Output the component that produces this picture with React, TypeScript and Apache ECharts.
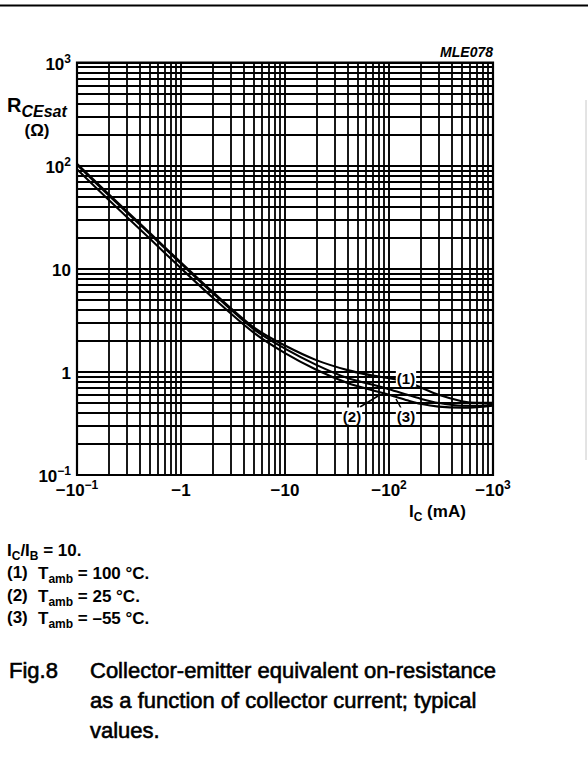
import React, { useEffect, useRef } from "react";
import * as echarts from "echarts";

// Collector current (mA, magnitude) and R_CEsat (ohm) for the three temperatures
const currentMA = [0.1, 0.2, 0.5, 1, 2, 5, 10, 20, 40, 70, 100, 150, 200, 300, 500, 700, 1000];
const r100C = [104, 53.5, 22.3, 11.5, 6.0, 2.7, 1.8, 1.3, 1.04, 0.92, 0.87, 0.8, 0.71, 0.6, 0.52, 0.5, 0.5];
const r25C = [102, 52, 21.8, 11.2, 5.85, 2.6, 1.68, 1.17, 0.87, 0.75, 0.68, 0.6, 0.55, 0.5, 0.47, 0.47, 0.48];
const rMinus55C = [92, 47, 19.6, 10.1, 5.3, 2.4, 1.52, 1.05, 0.78, 0.66, 0.6, 0.53, 0.49, 0.46, 0.45, 0.455, 0.47];

const decades = [0.1, 1, 10, 100, 1000];
const minorSteps = [2, 3, 4, 5, 6, 7, 8, 9];
const xTickLabels = [["−10", "−1"], ["−1", ""], ["−10", ""], ["−10", "2"], ["−10", "3"]];
const yTickLabels = [["10", "−1"], ["1", ""], ["10", ""], ["10", "2"], ["10", "3"]];

const FONT = "'Liberation Sans', Arial, Helvetica, sans-serif";

function tickFormatter(labels: string[][]) {
  return (v: number) => {
    const idx = Math.round(Math.log10(v)) + 1;
    const l = labels[idx];
    if (!l) return "";
    return l[1] ? `{b|${l[0]}}{s|${l[1]}}` : `{b|${l[0]}}`;
  };
}

const tickRich = {
  b: { fontFamily: FONT, fontSize: 17, fontWeight: "bold", color: "#000", lineHeight: 20, verticalAlign: "bottom" },
  s: { fontFamily: FONT, fontSize: 12, fontWeight: "bold", color: "#000", lineHeight: 12, verticalAlign: "top" },
};

export default function App() {
  const ref = useRef<HTMLDivElement>(null);
  useEffect(() => {
    if (!ref.current) return;
    const chart = echarts.init(ref.current, null, { renderer: "svg" });
    const minorLines: number[] = [];
    decades.slice(0, -1).forEach((d) => minorSteps.forEach((k) => minorLines.push(d * k)));
    const curve = (vals: number[], name: string) => ({
      type: "line",
      name,
      data: currentMA.map((x, i) => [x, vals[i]]),
      showSymbol: false,
      smooth: 0.3,
      z: 5,
      lineStyle: { color: "#000", width: 2.1 },
      silent: true,
    });
    const legendRich = {
      b: { fontFamily: FONT, fontSize: 17, fontWeight: "bold", fill: "#000", lineHeight: 20, verticalAlign: "bottom" },
      sub: { fontFamily: FONT, fontSize: 12, fontWeight: "bold", fill: "#000", lineHeight: 20, verticalAlign: "bottom", padding: [0, 0, -3, 0] },
    };
    const txt = (text: string, x: number, y: number, extra: any = {}) => ({
      type: "text",
      z: 100,
      style: {
        text,
        x,
        y,
        fill: "#000",
        font: `bold 17px ${FONT}`,
        verticalAlign: "middle",
        rich: legendRich,
        ...extra,
      },
    });
    const captionStyle = { font: `22px ${FONT}`, rich: undefined, stroke: "#000", lineWidth: 0.6 };
    chart.setOption({
      animation: false,
      backgroundColor: "#fff",
      grid: { left: 77, top: 62.5, width: 416, height: 412.5, show: true, borderColor: "#000", borderWidth: 2.2, backgroundColor: "transparent" },
      xAxis: {
        type: "log",
        logBase: 10,
        min: 0.1,
        max: 1000,
        axisLine: { show: false },
        axisTick: { show: false },
        splitLine: { show: true, lineStyle: { color: "#000", width: 1.9 } },
        axisLabel: { margin: 4, formatter: tickFormatter(xTickLabels), rich: tickRich, showMinLabel: true, showMaxLabel: true },
      },
      yAxis: {
        type: "log",
        logBase: 10,
        min: 0.1,
        max: 1000,
        axisLine: { show: false },
        axisTick: { show: false },
        splitLine: { show: true, lineStyle: { color: "#000", width: 1.9 } },
        axisLabel: { margin: 6, formatter: tickFormatter(yTickLabels), rich: tickRich, showMinLabel: true, showMaxLabel: true },
      },
      series: [
        {
          type: "line",
          data: [],
          silent: true,
          z: 1,
          markLine: {
            silent: true,
            symbol: ["none", "none"],
            label: { show: false },
            lineStyle: { color: "#000", width: 1.8, type: "solid" },
            data: [...minorLines.map((v) => ({ xAxis: v })), ...minorLines.map((v) => ({ yAxis: v }))],
          },
        },
        curve(r100C, "(1) 100 °C"),
        curve(r25C, "(2) 25 °C"),
        curve(rMinus55C, "(3) −55 °C"),
      ],
      graphic: [
        { type: "line", z: 100, shape: { x1: 0, y1: 5.5, x2: 588, y2: 5.5 }, style: { stroke: "#000", lineWidth: 2.2 } },
        { type: "line", z: 100, shape: { x1: 586, y1: 100, x2: 586, y2: 460 }, style: { stroke: "#c8c8c8", lineWidth: 1 } },
        txt("MLE078", 493, 52, { align: "right", font: `italic bold 14px ${FONT}`, rich: undefined }),
        {
          type: "text",
          z: 100,
          style: {
            text: "{r|R}{s|CEsat}",
            x: 7,
            y: 103,
            verticalAlign: "middle",
            rich: {
              r: { fontFamily: FONT, fontSize: 20, fontWeight: "bold", fill: "#000", lineHeight: 24, verticalAlign: "bottom" },
              s: { fontFamily: FONT, fontSize: 16, fontWeight: "bold", fontStyle: "italic", fill: "#000", lineHeight: 24, verticalAlign: "bottom", padding: [0, 0, -4, 0] },
            },
          },
        },
        txt("(Ω)", 37, 130, { align: "center", rich: undefined }),
        txt("{b|I}{sub|C}{b| (mA)}", 409, 510),
        // curve labels
        txt("(1)", 406, 378, { align: "center", font: `bold 15px ${FONT}`, backgroundColor: "#fff", padding: [1, 1], rich: undefined }),
        txt("(2)", 352, 416, { align: "center", font: `bold 15px ${FONT}`, backgroundColor: "#fff", padding: [1, 1], rich: undefined }),
        txt("(3)", 406, 416, { align: "center", font: `bold 15px ${FONT}`, backgroundColor: "#fff", padding: [1, 1], rich: undefined }),
        { type: "line", z: 99, shape: { x1: 360, y1: 407, x2: 378, y2: 396 }, style: { stroke: "#000", lineWidth: 1.5 } },
        { type: "line", z: 99, shape: { x1: 401, y1: 408, x2: 396, y2: 399 }, style: { stroke: "#000", lineWidth: 1.5 } },
        // conditions
        txt("{b|I}{sub|C}{b|/I}{sub|B}{b| = 10.}", 7, 549),
        txt("(1)", 7, 572, { rich: undefined }),
        txt("{b|T}{sub|amb}{b| = 100 °C.}", 38, 572),
        txt("(2)", 7, 595, { rich: undefined }),
        txt("{b|T}{sub|amb}{b| = 25 °C.}", 38, 595),
        txt("(3)", 7, 617, { rich: undefined }),
        txt("{b|T}{sub|amb}{b| = –55 °C.}", 38, 617),
        // caption
        txt("Fig.8", 9, 670, captionStyle),
        txt("Collector-emitter equivalent on-resistance", 90, 670, captionStyle),
        txt("as a function of collector current; typical", 90, 700, captionStyle),
        txt("values.", 90, 730, captionStyle),
      ],
    });
    return () => chart.dispose();
  }, []);
  return <div ref={ref} style={{ position: "absolute", left: 0, top: 0, width: 588, height: 781, background: "#fff" }} />;
}
